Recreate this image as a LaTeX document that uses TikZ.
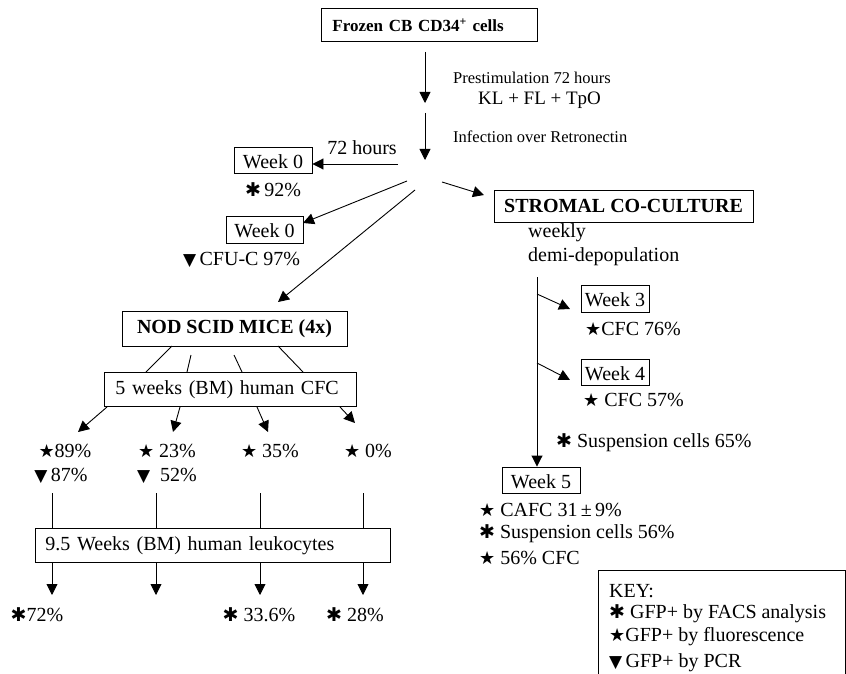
\documentclass[tikz,border=0pt]{standalone}
\usepackage{fontspec}
\setmainfont{Liberation Serif}
\newfontfamily\symfont{DejaVu Sans}
\usetikzlibrary{arrows.meta}
\newcommand{\SymAst}{{\symfont\fontsize{19}{19}\selectfont ✱}}
\newcommand{\SymStar}{{\symfont\fontsize{18}{18}\selectfont ★}}
\newcommand{\SymTri}{{\symfont\fontsize{17}{17}\selectfont ▼}}
\begin{document}
\begin{tikzpicture}[x=1pt,y=-1pt,
  every node/.style={font=\fontsize{20}{24}\selectfont},
  box/.style={draw, line width=0.9pt, inner sep=0pt},
  txt/.style={inner sep=0pt, anchor=west},
  lbl/.style={inner sep=0pt, anchor=center},
  conn/.style={line width=0.9pt},
  arr/.style={conn, -{Triangle[length=11pt,width=11pt]}},
  bigb/.style={font=\bfseries\fontsize{20}{24}\selectfont},
  small/.style={font=\fontsize{16.5}{20}\selectfont}
]
\useasboundingbox (0,0) rectangle (846,674);

% ---------- top ----------
\node[box, anchor=north west, minimum height=33pt, text width=194pt, inner xsep=11pt, align=left,
      font=\bfseries\fontsize{17}{20}\selectfont] (frozen) at (321,8) {Frozen CB CD34\textsuperscript{+} cells};
\node[txt, small] (prestim) at (453,78) {Prestimulation 72 hours};
\node[txt, font=\fontsize{19}{22}\selectfont] (kl) at (478,100) {KL + FL + TpO};
\node[txt, small] (infect) at (453,137) {Infection over Retronectin};

\coordinate (a1s) at (425,52);
\coordinate (a1e) at (425,103);
\coordinate (a2s) at (425,113);
\coordinate (a2e) at (425,160);
\draw[arr] (a1s) -- (a1e);
\draw[arr] (a2s) -- (a2e);

% ---------- week 0 ----------
\node[box, minimum width=78pt, minimum height=26pt, text height=17pt, text depth=1pt] (w0a) at (273,160) {Week 0};
\node[lbl] (hours) at (362,148) {72 hours};
\node[txt] (p92) at (245,190) {\SymAst\,92\%};
\coordinate (h1) at (398,164);
\draw[arr] (h1) -- (w0a.east |- h1);

\node[box, minimum width=77pt, minimum height=27pt, text height=17pt, text depth=1pt] (w0b) at (264.5,229.5) {Week 0};
\node[txt] (cfu) at (183,260) {\SymTri\,CFU-C 97\%};

\coordinate (f1) at (407,181);
\coordinate (t1) at (303,223);
\coordinate (f2) at (415,190);
\coordinate (t2) at (278,302);
\coordinate (f3) at (442,182);
\coordinate (t3) at (484,195);
\draw[arr] (f1) -- (t1);
\draw[arr] (f2) -- (t2);
\draw[arr] (f3) -- (t3);

% ---------- mice ----------
\node[box, bigb, minimum width=225pt, minimum height=35pt] (nod) at (234.5,328.5) {NOD SCID MICE (4x)};
\node[box, anchor=north west, minimum height=34pt, text width=230pt, inner xsep=11pt, align=left] (cfc5) at (104,372) {5 weeks (BM) human CFC};

\coordinate (n1) at (172,346); \coordinate (m1) at (146,372);
\coordinate (n2) at (191,355); \coordinate (m2) at (187,372);
\coordinate (n3) at (234,355); \coordinate (m3) at (242,372);
\coordinate (n4) at (278,346); \coordinate (m4) at (303,372);
\draw[conn] (n1) -- (m1);
\draw[conn] (n2) -- (m2);
\draw[conn] (n3) -- (m3);
\draw[conn] (n4) -- (m4);

\coordinate (c1) at (107,407); \coordinate (d1) at (78,432);
\coordinate (c2) at (180,407); \coordinate (d2) at (173,432);
\coordinate (c3) at (257,407); \coordinate (d3) at (268,432);
\coordinate (c4) at (340,407); \coordinate (d4) at (355,423);
\draw[arr] (c1) -- (d1);
\draw[arr] (c2) -- (d2);
\draw[arr] (c3) -- (d3);
\draw[arr] (c4) -- (d4);

\node[lbl] (r1a) at (65,451) {\SymStar89\%};
\node[lbl] (r2a) at (167,451) {\SymStar\ 23\%};
\node[lbl] (r3a) at (270,451) {\SymStar\ 35\%};
\node[lbl] (r4a) at (368,451) {\SymStar\ 0\%};
\node[lbl] (r1b) at (61,476) {\SymTri\,87\%};
\node[lbl] (r2b) at (167,476) {\SymTri\ \ 52\%};

\node[box, anchor=north west, minimum height=34pt, text width=335pt, inner xsep=10pt, align=left] (leuk) at (35,528) {9.5 Weeks (BM) human leukocytes};

\foreach \x/\i in {52/1,156/2,260/3,363/4}{
  \coordinate (v\i) at (\x,493);
  \coordinate (u\i) at (\x,562);
  \coordinate (w\i) at (\x,595);
  \draw[conn] (v\i) -- (v\i |- leuk.north);
  \draw[arr] (u\i) -- (w\i);
}

\node[lbl] (b1) at (37,615) {\SymAst72\%};
\node[lbl] (b3) at (259,615) {\SymAst\ 33.6\%};
\node[lbl] (b4) at (355,615) {\SymAst\ 28\%};

% ---------- stromal ----------
\node[box, bigb, minimum width=259pt, minimum height=32pt] (strom) at (623.5,206) {STROMAL CO-CULTURE};
\node[txt] (weekly) at (528,233) {weekly};
\node[txt] (demi) at (528,257) {demi-depopulation};

\node[box, minimum width=68pt, minimum height=27pt, text height=17pt, text depth=1pt] (w3) at (615,298.5) {Week 3};
\node[txt] (cfc76) at (585,329) {\SymStar CFC 76\%};
\node[box, minimum width=68pt, minimum height=26pt, text height=17pt, text depth=1pt] (w4) at (615,372) {Week 4};
\node[txt] (cfc57) at (583,400) {\SymStar\ CFC 57\%};
\node[txt] (susp65) at (556,443) {\SymAst\ Suspension cells 65\%};
\node[box, minimum width=78pt, minimum height=26pt, text height=17pt, text depth=1pt] (w5) at (541,480) {Week 5};
\node[txt] (cafc) at (479,510) {\SymStar\ CAFC 31\,±\,9\%};
\node[txt] (susp56) at (479,534) {\SymAst\ Suspension cells 56\%};
\node[txt] (cfc56) at (479,558) {\SymStar\ 56\% CFC};

\coordinate (s0) at (537,277);
\draw[arr] (s0) -- (s0 |- w5.north);
\coordinate (s1) at (537,294); \coordinate (e1) at (570,309);
\coordinate (s2) at (537,363); \coordinate (e2) at (570,380);
\draw[arr] (s1) -- (e1);
\draw[arr] (s2) -- (e2);

% ---------- key ----------
\draw[line width=0.9pt] (598,680) -- (598,570) -- (845,570) -- (845,680);
\node[txt] (key) at (609,591) {KEY:};
\node[txt] (k1) at (609,614) {\SymAst\ GFP+ by FACS analysis};
\node[txt] (k2) at (609,637) {\SymStar GFP+ by fluorescence};
\node[txt] (k3) at (609,663) {\SymTri\,GFP+ by PCR};
\end{tikzpicture}
\end{document}
